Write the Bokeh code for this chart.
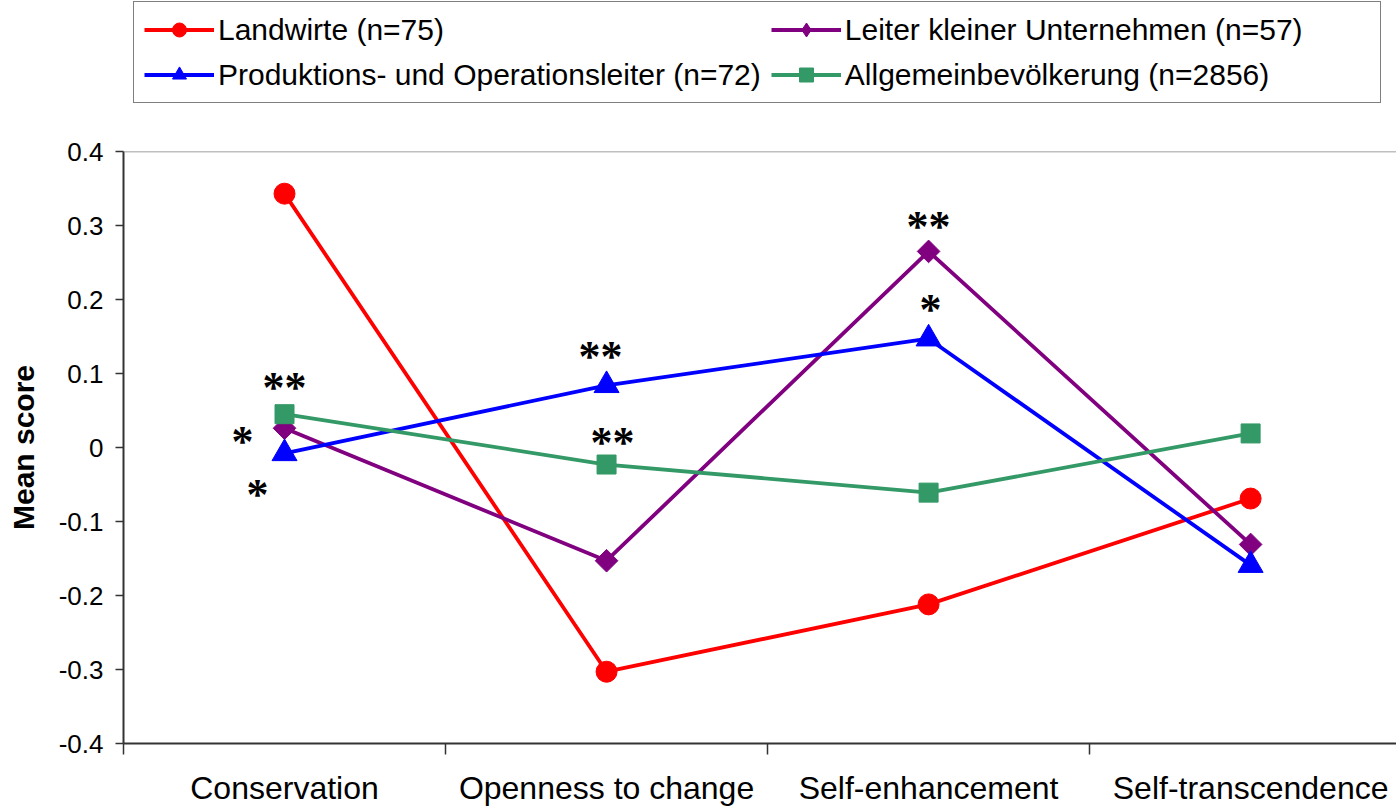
from bokeh.plotting import figure
from bokeh.layouts import column
from bokeh.models import (Range1d, FixedTicker, NumeralTickFormatter, Legend, LegendItem,
                          Span, ColumnDataSource)
from bokeh.embed import file_html
from bokeh.resources import INLINE
from bokeh.core.properties import value

# ---------------- data ----------------
categories = ["Conservation", "Openness to change", "Self-enhancement", "Self-transcendence"]
landwirte = [0.343, -0.303, -0.212, -0.069]
leiter = [0.026, -0.153, 0.265, -0.131]
produktion = [-0.008, 0.084, 0.147, -0.159]
allgemein = [0.045, -0.023, -0.061, 0.019]
series_labels = ["Landwirte (n=75)", "Leiter kleiner Unternehmen (n=57)",
                 "Produktions- und Operationsleiter (n=72)", "Allgemeinbevölkerung (n=2856)"]
y_ticks = [-0.4, -0.3, -0.2, -0.1, 0.0, 0.1, 0.2, 0.3, 0.4]
y_axis_label = "Mean score"

# significance markers attached to series points
sig_category = ["Conservation", "Conservation", "Conservation", "Openness to change",
                "Openness to change", "Self-enhancement", "Self-enhancement"]
sig_series = ["allgemein", "leiter", "produktion", "produktion", "allgemein", "leiter", "produktion"]
sig_text = ["**", "*", "*", "**", "**", "**", "*"]

# ---------------- styles ----------------
sig_dx = [0, -42, -27, -6, 6, 0, 2]
sig_dy = [-27, 13, 41, -29, -22, -25, -29]
FONT = "Liberation Sans"
W = 1396

series = {"landwirte": landwirte, "leiter": leiter, "produktion": produktion, "allgemein": allgemein}
x_pos = [i + 0.5 for i in range(len(categories))]

# key, color, marker, size, angle, legend marker
styles = [
    ("landwirte", "#FF0000", "circle", 21, 0.0, "circle"),
    ("leiter", "#800080", "square", 16, 0.785398, "diamond"),
    ("produktion", "#0000FF", "triangle", 25, 0.0, "triangle"),
    ("allgemein", "#339966", "square", 19, 0.0, "square"),
]
order = {"landwirte": 0, "leiter": 1, "produktion": 2, "allgemein": 3}

p = figure(width=W, height=678, output_backend="svg", toolbar_location=None,
           x_range=Range1d(0, 3.953), y_range=Range1d(-0.4, 0.4),
           min_border_left=123, min_border_right=0, min_border_top=20, min_border_bottom=66)
p.outline_line_color = None
p.xgrid.visible = False
p.ygrid.visible = False

for key, color, marker, size, ang, _ in styles:
    src = ColumnDataSource(dict(x=x_pos, y=series[key]))
    p.line("x", "y", source=src, line_color=color, line_width=3.8)
    p.scatter("x", "y", source=src, marker=marker, size=size, angle=ang,
              fill_color=color, line_color=color)

# top border
p.add_layout(Span(location=0.4, dimension="width", line_color="#808080", line_width=1.5))

# significance texts
cat_idx = {c: i for i, c in enumerate(categories)}
sx = [x_pos[cat_idx[c]] for c in sig_category]
sy = [series[k][cat_idx[c]] for k, c in zip(sig_series, sig_category)]
sig_src = ColumnDataSource(dict(x=sx, y=sy, t=sig_text, dx=sig_dx, dy=sig_dy))
p.text("x", "y", text="t", source=sig_src, x_offset="dx", y_offset="dy",
       text_font=value("Liberation Serif"), text_font_style="bold", text_font_size="44px",
       text_align="center", text_baseline="middle", text_color="black")

# axes
ax = p.xaxis[0]
ax.ticker = FixedTicker(ticks=x_pos, minor_ticks=[0, 1, 2, 3])
ax.major_label_overrides = {x: c for x, c in zip(x_pos, categories)}
ax.major_tick_line_color = None
ax.major_tick_out = 0
ax.major_tick_in = 0
ax.minor_tick_out = 11
ax.minor_tick_in = 0
ax.minor_tick_line_color = "#333333"
ax.minor_tick_line_width = 1.5
ax.axis_line_color = "#333333"
ax.axis_line_width = 2
ax.major_label_text_font = FONT
ax.major_label_text_font_size = "32px"
ax.major_label_text_color = "black"
ax.major_label_standoff = 15

ay = p.yaxis[0]
ay.ticker = FixedTicker(ticks=y_ticks)
ay.formatter = NumeralTickFormatter(format="0.[0]")
ay.minor_tick_line_color = None
ay.major_tick_out = 8
ay.major_tick_in = 0
ay.major_tick_line_color = "#333333"
ay.major_tick_line_width = 1.5
ay.axis_line_color = "#333333"
ay.axis_line_width = 2
ay.major_label_text_font = FONT
ay.major_label_text_font_size = "26px"
ay.major_label_text_color = "black"
ay.major_label_standoff = 12
ay.axis_label = y_axis_label
ay.axis_label_text_font = FONT
ay.axis_label_text_font_size = "30px"
ay.axis_label_text_font_style = "bold"
ay.axis_label_text_color = "black"
ay.axis_label_standoff = 16

# legend in its own strip above the chart (renderers lie outside its ranges)
pl = figure(width=W, height=131, output_backend="svg", toolbar_location=None,
            x_range=Range1d(100, 101), y_range=Range1d(100, 101),
            x_axis_location=None, y_axis_location=None,
            min_border_left=123, min_border_right=0, min_border_top=0, min_border_bottom=0)
pl.outline_line_color = None
pl.xgrid.visible = False
pl.ygrid.visible = False
leg_r = {}
for key, color, marker, size, ang, lmarker in styles:
    src = ColumnDataSource(dict(x=x_pos, y=series[key]))
    l = pl.line("x", "y", source=src, line_color=color, line_width=3.8)
    s = pl.scatter("x", "y", source=src, marker=lmarker, size=size,
                   fill_color=color, line_color=color)
    leg_r[key] = [l, s]

keys_in_order = ["landwirte", "leiter", "produktion", "allgemein"]
items = [LegendItem(label=series_labels[order[k]], renderers=leg_r[k]) for k in keys_in_order]
legend = Legend(items=items, location=(10, 28), orientation="horizontal", ncols=2,
                label_text_font=FONT, label_text_font_size="30px", label_text_color="black",
                glyph_width=70, glyph_height=35, label_height=35, label_width=525,
                label_standoff=4, spacing=10, padding=10, margin=0,
                border_line_color="black", border_line_width=1.5,
                background_fill_color="white", background_fill_alpha=1.0)
pl.add_layout(legend, "center")

layout = column(pl, p, spacing=0)
open("out.html", "w").write(file_html(layout, INLINE))
